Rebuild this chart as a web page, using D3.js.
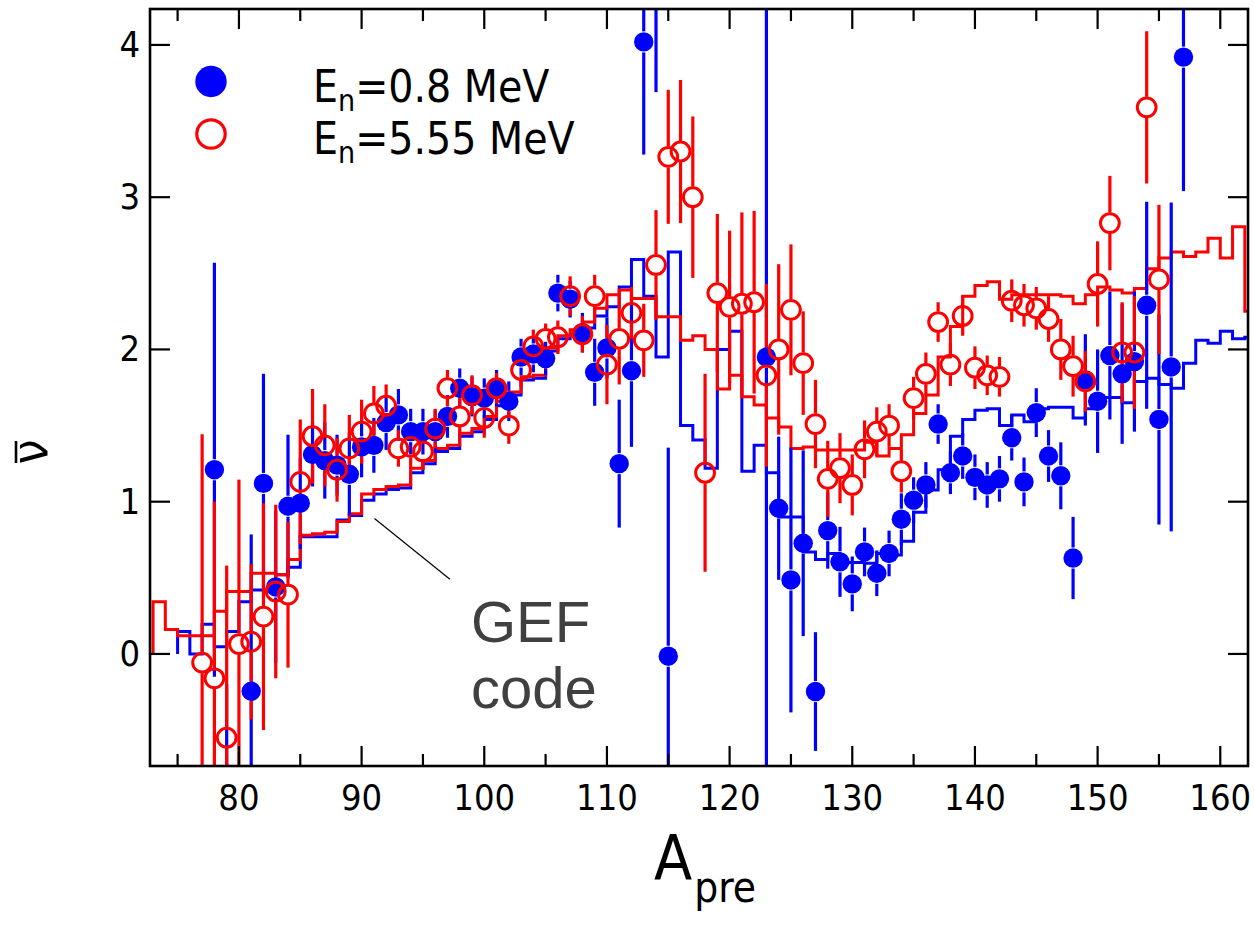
<!DOCTYPE html>
<html>
<head>
<meta charset="utf-8">
<script src="https://cdn.jsdelivr.net/npm/d3@7"></script>
<style>
  html, body { margin: 0; padding: 0; background: #fff; }
  svg { display: block; }
  .lab { font-family: "Liberation Sans Narrow", "DejaVu Sans Condensed", "Arial Narrow", sans-serif; fill: #000; }
  .gef { font-family: "Liberation Sans", Arial, sans-serif; fill: #404040; }
</style>
</head>
<body>
<svg id="chart" width="1254" height="926"></svg>
<script>
// Measured neutron multiplicity vs pre-neutron fragment mass (points with error bars)
// and GEF-code predictions (step histograms), for two incident neutron energies.

// E_n = 0.8 MeV data: mass, nu-bar, uncertainty
const massLow = [78, 79, 81, 82, 83, 84, 85, 86, 87, 88, 89, 90, 91, 92, 93, 94, 95, 96, 97, 98, 99, 100,
  101, 102, 103, 104, 105, 106, 107, 108, 109, 110, 111, 112, 113, 114, 115, 123, 124, 125, 126, 127, 128,
  129, 130, 131, 132, 133, 134, 135, 136, 137, 138, 139, 140, 141, 142, 143, 144, 145, 146, 147, 148, 149,
  150, 151, 152, 153, 154, 155, 156, 157];
const nuLow = [1.21, -1.10, -0.245, 1.12, 0.44, 0.97, 0.99, 1.31, 1.27, 1.24, 1.18, 1.36, 1.37, 1.52, 1.57,
  1.46, 1.46, 1.46, 1.56, 1.745, 1.69, 1.68, 1.745, 1.66, 1.95, 1.97, 1.94, 2.37, 2.33, 2.11, 1.85, 2.01, 1.25,
  1.86, 4.02, 5.00, -0.015, 1.95, 0.957, 0.486, 0.727, -0.247, 0.81, 0.605, 0.46, 0.67, 0.53, 0.66, 0.885, 1.01,
  1.11, 1.51, 1.19, 1.30, 1.16, 1.11, 1.15, 1.42, 1.13, 1.585, 1.30, 1.17, 0.63, 1.80, 1.66, 1.96, 1.84, 1.92,
  2.29, 1.54, 1.885, 3.92];
const errLow = [1.36, 0.90, 1.03, 0.72, 0.50, 0.47, 0.30, 0.21, 0.25, 0.20, 0.27, 0.20, 0.18, 0.18, 0.17,
  0.15, 0.15, 0.14, 0.14, 0.13, 0.13, 0.13, 0.12, 0.13, 0.12, 0.12, 0.11, 0.12, 0.12, 0.13, 0.22, 0.20, 0.42,
  0.50, 0.74, 1.31, 1.37, 3.00, 0.47, 0.87, 0.61, 0.39, 0.25, 0.23, 0.18, 0.16, 0.15, 0.15, 0.17, 0.15, 0.15,
  0.13, 0.14, 0.15, 0.15, 0.15, 0.15, 0.15, 0.16, 0.16, 0.17, 0.22, 0.27, 0.30, 0.34, 0.42, 0.46, 0.46, 0.68,
  0.69, 1.08, 0.88];

// E_n = 5.55 MeV data
const massHigh = [77, 78, 79, 80, 81, 82, 83, 84, 85, 86, 87, 88, 89, 90, 91, 92, 93, 94, 95, 96, 97, 98,
  99, 100, 101, 102, 103, 104, 105, 106, 107, 108, 109, 110, 111, 112, 113, 114, 115, 116, 117, 118, 119, 120,
  121, 122, 123, 124, 125, 126, 127, 128, 129, 130, 131, 132, 133, 134, 135, 136, 137, 138, 139, 140, 141,
  142, 143, 144, 145, 146, 147, 148, 149, 150, 151, 152, 153, 154, 155];
const nuHigh = [-0.057, -0.16, -0.55, 0.065, 0.08, 0.245, 0.41, 0.39, 1.13, 1.43, 1.37, 1.21, 1.35, 1.46,
  1.58, 1.63, 1.35, 1.36, 1.33, 1.48, 1.745, 1.56, 1.70, 1.55, 1.745, 1.50, 1.865, 2.02, 2.07, 2.08, 2.35, 2.10,
  2.35, 1.90, 2.07, 2.24, 2.06, 2.555, 3.265, 3.30, 3.00, 1.19, 2.37, 2.28, 2.30, 2.31, 1.83, 2.00, 2.26, 1.91,
  1.51, 1.15, 1.22, 1.11, 1.344, 1.46, 1.50, 1.20, 1.68, 1.84, 2.18, 1.90, 2.22, 1.88, 1.83, 1.82, 2.32, 2.29,
  2.27, 2.20, 2.00, 1.89, 1.79, 2.43, 2.83, 1.98, 1.98, 3.59, 2.46];
const errHigh = [1.50, 1.16, 1.13, 1.08, 0.51, 0.745, 0.57, 0.48, 0.41, 0.31, 0.27, 0.21, 0.22, 0.21, 0.18,
  0.14, 0.12, 0.15, 0.12, 0.13, 0.12, 0.13, 0.13, 0.13, 0.10, 0.12, 0.11, 0.11, 0.10, 0.11, 0.13, 0.12, 0.14,
  0.26, 0.30, 0.17, 0.24, 0.36, 0.44, 0.47, 0.53, 0.65, 0.52, 0.50, 0.60, 0.60, 0.60, 0.56, 0.43, 0.34, 0.29,
  0.25, 0.23, 0.20, 0.19, 0.16, 0.14, 0.14, 0.14, 0.14, 0.13, 0.14, 0.13, 0.14, 0.13, 0.13, 0.14, 0.14, 0.14,
  0.15, 0.20, 0.20, 0.20, 0.28, 0.31, 0.33, 0.37, 0.50, 0.49];

// GEF predictions, one value per unit mass bin [A, A+1)
const gefLowStart = 75;
const gefLow = [0.147, 0.0, 0.195, 0.048, 0.147, 0.343, 0.42, 0.42, 0.52, 0.57, 0.77, 0.77, 0.77, 0.88,
  0.91, 1.01, 1.05, 1.08, 1.09, 1.19, 1.25, 1.33, 1.35, 1.43, 1.46, 1.54, 1.63, 1.70, 1.80, 1.81, 1.99, 2.07,
  2.10, 2.14, 2.22, 2.28, 2.41, 2.59, 2.35, 1.95, 2.64, 1.50, 1.405, 1.22, 2.00, 2.12, 1.20, 1.37, 1.19, 0.90,
  0.90, 0.67, 0.62, 0.66, 0.60, 0.60, 0.595, 0.66, 0.65, 0.74, 0.93, 1.077, 1.21, 1.43, 1.54, 1.60, 1.61, 1.50,
  1.57, 1.525, 1.61, 1.62, 1.62, 1.55, 1.61, 1.685, 1.685, 1.65, 1.79, 1.81, 1.77, 1.745, 1.91, 2.06, 2.04,
  2.12, 2.07, 2.08];
const gefHighStart = 73;
const gefHigh = [0.343, 0.16, 0.12, 0.12, 0.12, 0.28, 0.41, 0.41, 0.53, 0.53, 0.52, 0.62, 0.78, 0.79, 0.80,
  0.87, 0.92, 1.05, 1.08, 1.10, 1.11, 1.22, 1.27, 1.35, 1.37, 1.45, 1.48, 1.56, 1.66, 1.72, 1.82, 1.83, 2.01,
  2.09, 2.13, 2.18, 2.27, 2.36, 2.39, 2.335, 2.335, 2.215, 2.215, 2.06, 2.09, 2.00, 1.74, 1.83, 1.69, 1.635,
  1.55, 1.49, 1.35, 1.36, 1.34, 1.34, 1.34, 1.34, 1.39, 1.30, 1.35, 1.44, 1.58, 1.70, 1.95, 2.15, 2.35, 2.42,
  2.445, 2.33, 2.36, 2.36, 2.36, 2.36, 2.35, 2.30, 2.36, 2.41, 2.39, 2.37, 2.40, 2.53, 2.60, 2.64, 2.61, 2.64,
  2.73, 2.60, 2.805, 2.25];

const xTicksMajor = [80, 90, 100, 110, 120, 130, 140, 150, 160];
const yTicks = [0, 1, 2, 3, 4];
const legendLabels = ["0.8 MeV", "5.55 MeV"];

const BLUE = "#0000ff", RED = "#ff0000";

const svg = d3.select("#chart");
const plot = { left: 150, right: 1248, top: 9, bottom: 766 };

const x = d3.scaleLinear().domain([72.75, 162.26]).range([plot.left, plot.right]);
const y = d3.scaleLinear().domain([-0.736, 4.236]).range([plot.bottom, plot.top]);

svg.append("defs").append("clipPath").attr("id", "plotClip")
  .append("rect")
  .attr("x", plot.left).attr("y", plot.top)
  .attr("width", plot.right - plot.left).attr("height", plot.bottom - plot.top);

const layer = svg.append("g").attr("clip-path", "url(#plotClip)");

// step histogram path built through the scales
function stepPath(start, values) {
  const p = d3.path();
  p.moveTo(x(start), y(0));
  values.forEach((v, i) => {
    p.lineTo(x(start + i), y(v));
    p.lineTo(x(start + i + 1), y(v));
  });
  return p.toString();
}

layer.append("path").attr("d", stepPath(gefLowStart, gefLow))
  .attr("fill", "none").attr("stroke", BLUE).attr("stroke-width", 3).attr("stroke-linejoin", "miter");
layer.append("path").attr("d", stepPath(gefHighStart, gefHigh))
  .attr("fill", "none").attr("stroke", RED).attr("stroke-width", 3).attr("stroke-linejoin", "miter");

const lowPts = massLow.map((a, i) => ({ a, v: nuLow[i], e: errLow[i] }));
const highPts = massHigh.map((a, i) => ({ a, v: nuHigh[i], e: errHigh[i] }));

const R_FILL = 9.7, R_OPEN = 9.4, GAP = 10.5;

// error bars, split around the marker
function errorBars(g, pts, color) {
  pts.forEach(d => {
    const cx = x(d.a), cy = y(d.v);
    const top = y(d.v + d.e), bot = y(d.v - d.e);
    if (cy - GAP > top) {
      g.append("line").attr("x1", cx).attr("x2", cx).attr("y1", top).attr("y2", cy - GAP)
        .attr("stroke", color).attr("stroke-width", 3.2);
    }
    if (cy + GAP < bot) {
      g.append("line").attr("x1", cx).attr("x2", cx).attr("y1", cy + GAP).attr("y2", bot)
        .attr("stroke", color).attr("stroke-width", 3.2);
    }
  });
}
errorBars(layer.append("g"), lowPts, BLUE);
errorBars(layer.append("g"), highPts, RED);

layer.append("g").selectAll("circle").data(lowPts).join("circle")
  .attr("cx", d => x(d.a)).attr("cy", d => y(d.v)).attr("r", R_FILL)
  .attr("fill", BLUE);
layer.append("g").selectAll("circle").data(highPts).join("circle")
  .attr("cx", d => x(d.a)).attr("cy", d => y(d.v)).attr("r", R_OPEN)
  .attr("fill", "none").attr("stroke", RED).attr("stroke-width", 3);

// frame and inward ticks
const axes = svg.append("g");
axes.append("rect")
  .attr("x", plot.left).attr("y", plot.top)
  .attr("width", plot.right - plot.left).attr("height", plot.bottom - plot.top)
  .attr("fill", "none").attr("stroke", "#000").attr("stroke-width", 2.6);

const xMinor = d3.range(75, 165, 10);
xTicksMajor.forEach(t => {
  axes.append("line").attr("x1", x(t)).attr("x2", x(t)).attr("y1", plot.bottom).attr("y2", plot.bottom - 20)
    .attr("stroke", "#000").attr("stroke-width", 2.2);
  axes.append("line").attr("x1", x(t)).attr("x2", x(t)).attr("y1", plot.top).attr("y2", plot.top + 20)
    .attr("stroke", "#000").attr("stroke-width", 2.2);
});
xMinor.forEach(t => {
  axes.append("line").attr("x1", x(t)).attr("x2", x(t)).attr("y1", plot.bottom).attr("y2", plot.bottom - 12)
    .attr("stroke", "#000").attr("stroke-width", 2.2);
  axes.append("line").attr("x1", x(t)).attr("x2", x(t)).attr("y1", plot.top).attr("y2", plot.top + 12)
    .attr("stroke", "#000").attr("stroke-width", 2.2);
});
yTicks.forEach(t => {
  axes.append("line").attr("x1", plot.left).attr("x2", plot.left + 20).attr("y1", y(t)).attr("y2", y(t))
    .attr("stroke", "#000").attr("stroke-width", 2.2);
  axes.append("line").attr("x1", plot.right).attr("x2", plot.right - 20).attr("y1", y(t)).attr("y2", y(t))
    .attr("stroke", "#000").attr("stroke-width", 2.2);
});

// tick labels
axes.selectAll(".xl").data(xTicksMajor).join("text")
  .attr("class", "lab").attr("x", d => x(d)).attr("y", 810)
  .attr("text-anchor", "middle").attr("font-size", 36).text(d => d);
axes.selectAll(".yl").data(yTicks).join("text")
  .attr("class", "lab").attr("x", 140).attr("y", d => y(d) + 12)
  .attr("text-anchor", "end").attr("font-size", 36).text(d => d);

// axis titles
const xt = svg.append("text").attr("class", "lab").attr("x", 654).attr("y", 880).attr("font-size", 62);
xt.append("tspan").text("A");
xt.append("tspan").attr("font-size", 42).attr("dx", 2).attr("dy", 22).text("pre");

const yt = svg.append("g").attr("transform", "translate(47,452) rotate(-90)");
yt.append("text").attr("class", "lab").attr("x", 0).attr("y", 0)
  .attr("text-anchor", "middle").attr("font-size", 50).text("ν");
yt.append("line").attr("x1", -11).attr("x2", 11).attr("y1", -31).attr("y2", -31)
  .attr("stroke", "#000").attr("stroke-width", 2.6);

// legend
const legend = svg.append("g");
legend.append("circle").attr("cx", 211).attr("cy", 81.5).attr("r", 15.7).attr("fill", BLUE);
legend.append("circle").attr("cx", 211).attr("cy", 134).attr("r", 14.2)
  .attr("fill", "none").attr("stroke", RED).attr("stroke-width", 3.2);
legendLabels.forEach((lbl, i) => {
  const t = legend.append("text").attr("class", "lab").attr("x", 313).attr("y", 101.5 + i * 52.5)
    .attr("font-size", 44);
  t.append("tspan").text("E");
  t.append("tspan").attr("font-size", 30).attr("dy", 9).text("n");
  t.append("tspan").attr("dy", -9).text("=" + lbl);
});

// GEF annotation
svg.append("line")
  .attr("x1", x(91.05)).attr("y1", y(0.89)).attr("x2", x(97.2)).attr("y2", y(0.49))
  .attr("stroke", "#000").attr("stroke-width", 1.2);
svg.append("text").attr("class", "gef").attr("x", 471).attr("y", 642).attr("font-size", 58).text("GEF");
svg.append("text").attr("class", "gef").attr("x", 471).attr("y", 708).attr("font-size", 58).text("code");
</script>
</body>
</html>
